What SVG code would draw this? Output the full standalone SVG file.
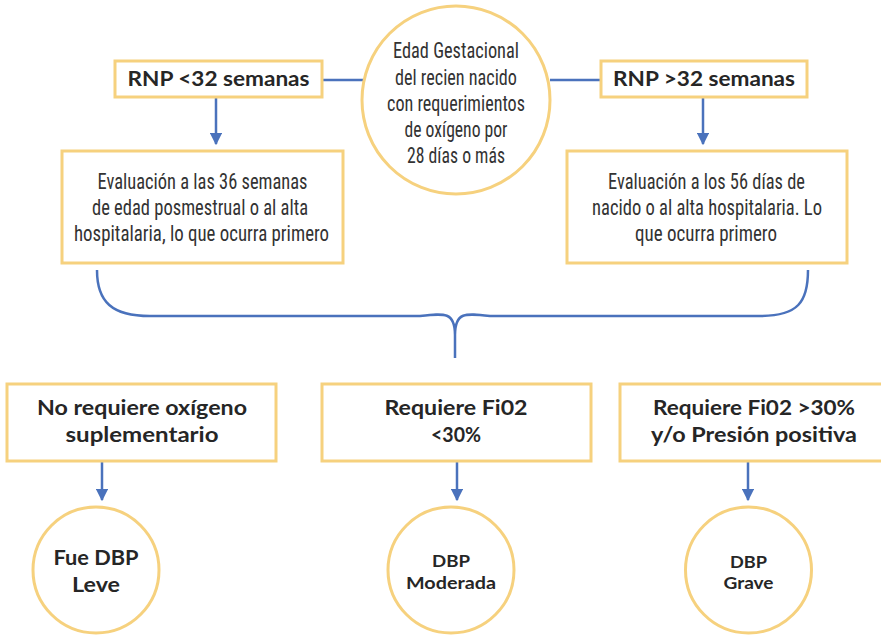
<svg xmlns="http://www.w3.org/2000/svg" width="881" height="636" viewBox="0 0 881 636">
  <style>
    .box { fill: #ffffff; stroke: #F6D17E; stroke-width: 3; }
    .ring { fill: #ffffff; stroke: #F6D17E; stroke-width: 3; }
    .link { fill: none; stroke: #4A72BC; stroke-width: 2.5; }
    .thin { font-family: "Liberation Sans Narrow", "Roboto Condensed", Roboto, sans-serif; font-size: 22px; fill: #333333; text-anchor: middle; }
    .bold { font-family: Lato, "Open Sans", sans-serif; font-weight: 700; fill: #262626; text-anchor: middle; }
  </style>
  <defs>
    <marker id="arrow" viewBox="0 0 10 10" refX="9" refY="5" markerWidth="5" markerHeight="5" orient="auto" markerUnits="strokeWidth">
      <path d="M0,0 L10,5 L0,10 z" fill="#4A72BC"/>
    </marker>
  </defs>
  <rect width="881" height="636" fill="#ffffff"/>

  <g id="connectors">
    <line class="link" x1="322" y1="80" x2="364" y2="80"/>
    <line class="link" x1="550" y1="80" x2="601" y2="80"/>
    <line class="link" x1="216" y1="97" x2="216" y2="144" marker-end="url(#arrow)"/>
    <line class="link" x1="703" y1="97" x2="703" y2="144" marker-end="url(#arrow)"/>
    <path class="link" d="M97,270 C97,302 112,316 150,316 L420,316 C445,313 455,312 455,335 L455,358 M455,335 C455,312 465,313 490,316 L760,316 C798,316 808,302 808,270"/>
    <line class="link" x1="102" y1="462" x2="102" y2="500" marker-end="url(#arrow)"/>
    <line class="link" x1="457" y1="462" x2="457" y2="500" marker-end="url(#arrow)"/>
    <line class="link" x1="748" y1="462" x2="748" y2="500" marker-end="url(#arrow)"/>
  </g>

  <g id="edad-gestacional">
    <circle class="ring" cx="456" cy="100" r="94"/>
    <text class="thin" x="456" y="58" textLength="126" lengthAdjust="spacingAndGlyphs">Edad Gestacional</text>
    <text class="thin" x="456" y="85" textLength="122" lengthAdjust="spacingAndGlyphs">del recien nacido</text>
    <text class="thin" x="456" y="111" textLength="138" lengthAdjust="spacingAndGlyphs">con requerimientos</text>
    <text class="thin" x="456" y="137" textLength="103" lengthAdjust="spacingAndGlyphs">de oxígeno por</text>
    <text class="thin" x="456" y="163" textLength="98" lengthAdjust="spacingAndGlyphs">28 días o más</text>
  </g>

  <g id="rnp-menor-32">
    <rect class="box" x="115" y="61" width="207" height="36"/>
    <text class="bold" x="218.5" y="86" font-size="21" textLength="182" lengthAdjust="spacingAndGlyphs">RNP &lt;32 semanas</text>
  </g>

  <g id="rnp-mayor-32">
    <rect class="box" x="601" y="61" width="206" height="36"/>
    <text class="bold" x="704" y="86" font-size="21" textLength="182" lengthAdjust="spacingAndGlyphs">RNP &gt;32 semanas</text>
  </g>

  <g id="evaluacion-36">
    <rect class="box" x="62" y="151" width="281" height="112" stroke-width="2.5"/>
    <text class="thin" x="202.5" y="189" textLength="210" lengthAdjust="spacingAndGlyphs">Evaluación a las 36 semanas</text>
    <text class="thin" x="200" y="215" textLength="216" lengthAdjust="spacingAndGlyphs">de edad posmestrual o al alta</text>
    <text class="thin" x="201.5" y="241" textLength="255" lengthAdjust="spacingAndGlyphs">hospitalaria, lo que ocurra primero</text>
  </g>

  <g id="evaluacion-56">
    <rect class="box" x="567" y="151" width="280" height="112" stroke-width="2.5"/>
    <text class="thin" x="706.5" y="189" textLength="197" lengthAdjust="spacingAndGlyphs">Evaluación a los 56 días de</text>
    <text class="thin" x="707" y="215" textLength="230" lengthAdjust="spacingAndGlyphs">nacido o al alta hospitalaria. Lo</text>
    <text class="thin" x="706" y="241" textLength="142" lengthAdjust="spacingAndGlyphs">que ocurra primero</text>
  </g>

  <g id="sin-oxigeno">
    <rect class="box" x="7" y="384" width="269" height="77"/>
    <text class="bold" x="142" y="415" font-size="20" textLength="210" lengthAdjust="spacingAndGlyphs">No requiere oxígeno</text>
    <text class="bold" x="142" y="442" font-size="20" textLength="153" lengthAdjust="spacingAndGlyphs">suplementario</text>
  </g>

  <g id="fio2-menor-30">
    <rect class="box" x="322" y="384" width="269" height="77"/>
    <text class="bold" x="456" y="415" font-size="20" textLength="143" lengthAdjust="spacingAndGlyphs">Requiere Fi02</text>
    <text class="bold" x="456" y="442" font-size="20" textLength="50" lengthAdjust="spacingAndGlyphs">&lt;30%</text>
  </g>

  <g id="fio2-mayor-30">
    <rect class="box" x="620" y="384" width="268" height="77"/>
    <text class="bold" x="754" y="415" font-size="20" textLength="202" lengthAdjust="spacingAndGlyphs">Requiere Fi02 &gt;30%</text>
    <text class="bold" x="754" y="442" font-size="20" textLength="206" lengthAdjust="spacingAndGlyphs">y/o Presión positiva</text>
  </g>

  <g id="dbp-leve">
    <circle class="ring" cx="96" cy="570" r="63"/>
    <text class="bold" x="96" y="565" font-size="20" textLength="85" lengthAdjust="spacingAndGlyphs">Fue DBP</text>
    <text class="bold" x="96" y="592" font-size="20" textLength="48" lengthAdjust="spacingAndGlyphs">Leve</text>
  </g>

  <g id="dbp-moderada">
    <circle class="ring" cx="451" cy="570" r="63"/>
    <text class="bold" x="451" y="567" font-size="17" textLength="38" lengthAdjust="spacingAndGlyphs">DBP</text>
    <text class="bold" x="451" y="589" font-size="17" textLength="90" lengthAdjust="spacingAndGlyphs">Moderada</text>
  </g>

  <g id="dbp-grave">
    <circle class="ring" cx="748.5" cy="570" r="63"/>
    <text class="bold" x="748.5" y="568" font-size="17" textLength="37" lengthAdjust="spacingAndGlyphs">DBP</text>
    <text class="bold" x="748.5" y="589" font-size="17" textLength="50" lengthAdjust="spacingAndGlyphs">Grave</text>
  </g>
</svg>
